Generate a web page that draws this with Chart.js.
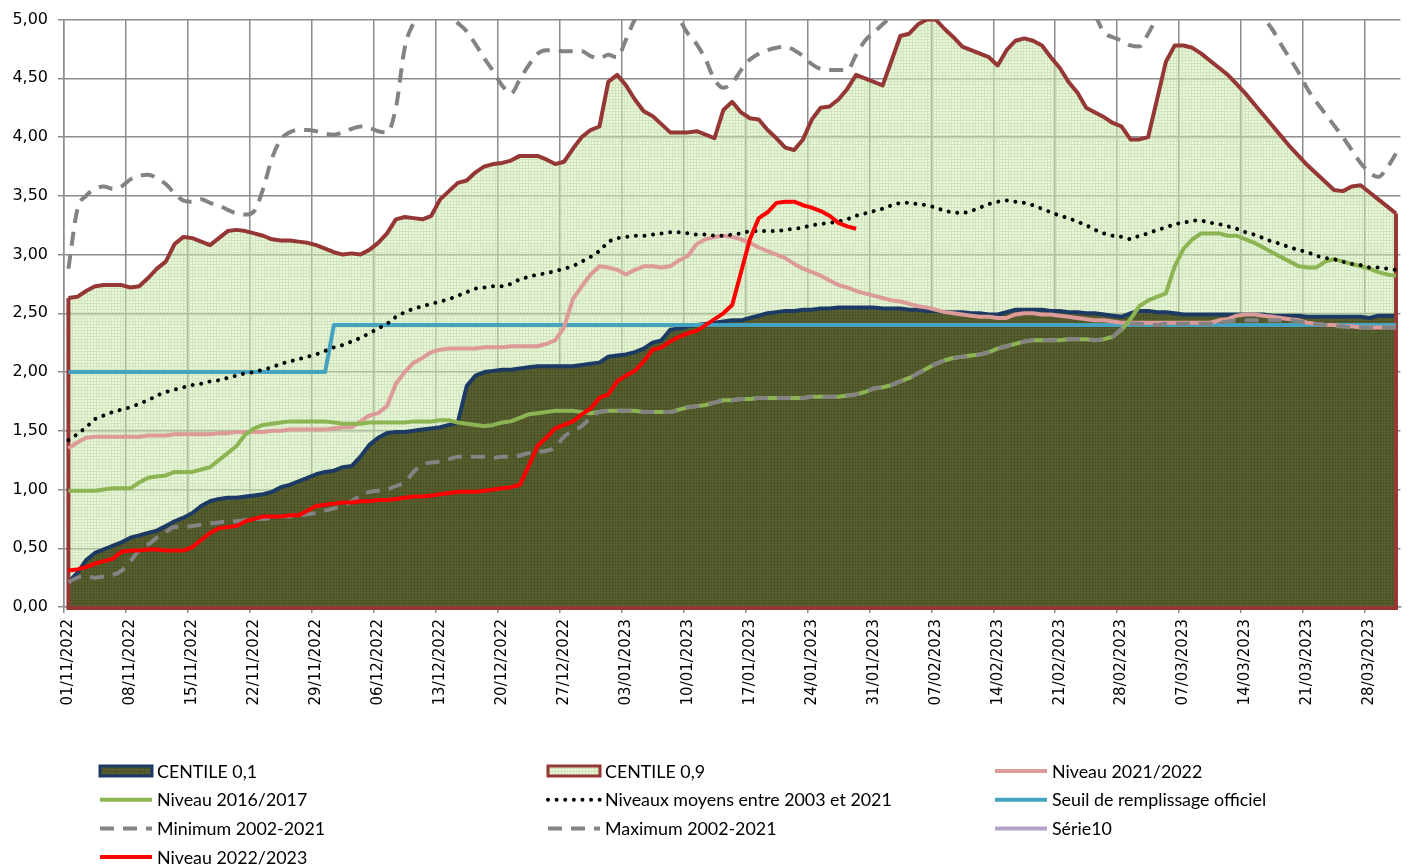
<!DOCTYPE html>
<html><head><meta charset="utf-8">
<script src="https://cdn.jsdelivr.net/npm/chart.js@4.4.0/dist/chart.umd.min.js"></script>
<style>html,body{margin:0;padding:0;background:#fff;}canvas{display:block;}</style>
</head><body>
<canvas id="c" width="1420" height="865"></canvas>
<script>
// ---------- DATA ----------
const categories = [];
for (let d = new Date(Date.UTC(2022, 10, 1)); d <= new Date(Date.UTC(2023, 2, 31)); d.setUTCDate(d.getUTCDate() + 1)) {
  const dd = String(d.getUTCDate()).padStart(2, '0'), mm = String(d.getUTCMonth() + 1).padStart(2, '0');
  categories.push(dd + '/' + mm + '/' + d.getUTCFullYear());
}
const tickEvery = 7;
const yTicks = [0, 0.5, 1, 1.5, 2, 2.5, 3, 3.5, 4, 4.5, 5];

const centile01 = [0.21,0.29,0.40,0.46,0.49,0.52,0.55,0.59,0.61,0.63,
0.65,0.69,0.73,0.76,0.80,0.86,0.90,0.92,0.93,0.93,
0.94,0.95,0.96,0.98,1.02,1.04,1.07,1.10,1.13,1.15,
1.16,1.19,1.20,1.28,1.38,1.44,1.48,1.49,1.49,1.50,
1.51,1.52,1.53,1.55,1.57,1.88,1.97,2.00,2.01,2.02,
2.02,2.03,2.04,2.05,2.05,2.05,2.05,2.05,2.06,2.07,
2.08,2.13,2.14,2.15,2.17,2.20,2.25,2.27,2.36,2.37,
2.39,2.40,2.41,2.42,2.43,2.44,2.44,2.46,2.48,2.50,
2.51,2.52,2.52,2.53,2.53,2.54,2.54,2.55,2.55,2.55,
2.55,2.55,2.54,2.54,2.54,2.53,2.53,2.52,2.52,2.51,
2.51,2.51,2.50,2.50,2.49,2.49,2.51,2.53,2.53,2.53,
2.53,2.52,2.52,2.51,2.51,2.50,2.50,2.49,2.48,2.47,
2.50,2.52,2.52,2.51,2.51,2.50,2.49,2.49,2.49,2.49,
2.49,2.49,2.49,2.49,2.49,2.49,2.48,2.48,2.48,2.48,
2.47,2.47,2.47,2.47,2.47,2.47,2.47,2.46,2.48,2.48,
2.48];

const centile09 = [2.63,2.64,2.69,2.73,2.74,2.74,2.74,2.72,2.73,2.80,
2.88,2.94,3.09,3.15,3.14,3.11,3.08,3.14,3.20,3.21,
3.20,3.18,3.16,3.13,3.12,3.12,3.11,3.10,3.08,3.05,
3.02,3.00,3.01,3.00,3.04,3.10,3.18,3.30,3.32,3.31,
3.30,3.33,3.47,3.54,3.61,3.63,3.70,3.75,3.77,3.78,
3.80,3.84,3.84,3.84,3.81,3.77,3.79,3.90,4.00,4.06,
4.09,4.47,4.53,4.44,4.32,4.22,4.18,4.11,4.04,4.04,
4.04,4.05,4.02,3.99,4.23,4.30,4.21,4.16,4.15,4.06,
3.99,3.91,3.89,3.98,4.15,4.25,4.26,4.32,4.41,4.53,
4.50,4.47,4.44,4.65,4.86,4.88,4.96,5.00,5.00,4.92,
4.85,4.77,4.74,4.71,4.68,4.61,4.74,4.82,4.84,4.82,
4.78,4.68,4.59,4.47,4.38,4.25,4.21,4.17,4.12,4.09,
3.98,3.98,4.00,4.32,4.64,4.78,4.78,4.76,4.71,4.65,
4.59,4.53,4.45,4.37,4.28,4.19,4.10,4.01,3.92,3.84,
3.76,3.69,3.62,3.55,3.54,3.58,3.59,3.53,3.47,3.41,
3.35];

const niveau2122 = [1.35,1.40,1.44,1.45,1.45,1.45,1.45,1.45,1.45,1.46,
1.46,1.46,1.47,1.47,1.47,1.47,1.47,1.48,1.48,1.49,
1.49,1.49,1.49,1.50,1.50,1.51,1.51,1.51,1.51,1.51,
1.52,1.53,1.53,1.58,1.63,1.65,1.71,1.90,2.00,2.08,
2.12,2.17,2.19,2.20,2.20,2.20,2.20,2.21,2.21,2.21,
2.22,2.22,2.22,2.22,2.24,2.27,2.38,2.62,2.73,2.83,
2.90,2.89,2.87,2.83,2.87,2.90,2.90,2.89,2.90,2.95,
2.99,3.09,3.13,3.15,3.16,3.15,3.13,3.10,3.06,3.03,
3.00,2.97,2.92,2.88,2.85,2.82,2.78,2.74,2.72,2.69,
2.67,2.65,2.63,2.61,2.60,2.58,2.56,2.55,2.53,2.51,
2.50,2.49,2.48,2.47,2.47,2.46,2.46,2.49,2.50,2.50,
2.49,2.49,2.48,2.47,2.46,2.45,2.44,2.44,2.43,2.42,
2.42,2.42,2.42,2.42,2.42,2.42,2.42,2.42,2.42,2.42,
2.44,2.45,2.48,2.49,2.49,2.48,2.47,2.46,2.45,2.44,
2.42,2.41,2.40,2.40,2.39,2.39,2.38,2.38,2.38,2.38,
2.38];

const niveau1617 = [0.99,0.99,0.99,0.99,1.00,1.01,1.01,1.01,1.06,1.10,
1.11,1.12,1.15,1.15,1.15,1.17,1.19,1.25,1.31,1.37,
1.47,1.52,1.55,1.56,1.57,1.58,1.58,1.58,1.58,1.58,
1.57,1.56,1.56,1.56,1.57,1.57,1.57,1.57,1.57,1.58,
1.58,1.58,1.59,1.59,1.57,1.56,1.55,1.54,1.55,1.57,
1.58,1.61,1.64,1.65,1.66,1.67,1.67,1.67,1.66,1.65,
1.66,1.67,1.67,1.67,1.67,1.66,1.66,1.66,1.66,1.68,
1.70,1.71,1.72,1.74,1.76,1.76,1.77,1.77,1.78,1.78,
1.78,1.78,1.78,1.78,1.79,1.79,1.79,1.79,1.80,1.81,
1.83,1.86,1.87,1.89,1.92,1.95,1.99,2.03,2.07,2.10,
2.12,2.13,2.14,2.15,2.17,2.20,2.22,2.24,2.26,2.27,
2.27,2.27,2.27,2.28,2.28,2.28,2.27,2.28,2.30,2.36,
2.45,2.56,2.61,2.64,2.67,2.90,3.05,3.13,3.18,3.18,
3.18,3.16,3.16,3.13,3.10,3.06,3.02,2.98,2.94,2.90,
2.89,2.89,2.94,2.96,2.94,2.92,2.90,2.88,2.85,2.83,
2.82];

const moyens0321 = [1.42,1.47,1.53,1.60,1.63,1.66,1.68,1.70,1.73,1.76,
1.80,1.83,1.85,1.87,1.89,1.90,1.92,1.93,1.95,1.97,
1.99,2.00,2.02,2.04,2.07,2.09,2.11,2.13,2.15,2.18,
2.21,2.23,2.26,2.29,2.33,2.37,2.41,2.47,2.51,2.54,
2.56,2.58,2.60,2.62,2.65,2.68,2.71,2.72,2.73,2.73,
2.75,2.79,2.81,2.83,2.84,2.86,2.88,2.90,2.94,2.98,
3.03,3.11,3.14,3.15,3.16,3.16,3.17,3.18,3.19,3.19,
3.18,3.17,3.17,3.16,3.16,3.17,3.18,3.20,3.20,3.20,
3.20,3.21,3.22,3.23,3.25,3.26,3.27,3.28,3.30,3.33,
3.35,3.37,3.39,3.42,3.44,3.44,3.43,3.42,3.40,3.37,
3.36,3.35,3.37,3.40,3.43,3.45,3.46,3.45,3.44,3.42,
3.39,3.36,3.33,3.31,3.28,3.25,3.21,3.18,3.16,3.15,
3.13,3.16,3.18,3.21,3.23,3.26,3.27,3.29,3.29,3.27,
3.26,3.24,3.22,3.19,3.17,3.14,3.11,3.09,3.06,3.04,
3.02,2.99,2.97,2.96,2.94,2.92,2.91,2.89,2.89,2.88,
2.87];

const seuilOfficiel = [2.00,2.00,2.00,2.00,2.00,2.00,2.00,2.00,2.00,2.00,
2.00,2.00,2.00,2.00,2.00,2.00,2.00,2.00,2.00,2.00,
2.00,2.00,2.00,2.00,2.00,2.00,2.00,2.00,2.00,2.00,
2.40,2.40,2.40,2.40,2.40,2.40,2.40,2.40,2.40,2.40,
2.40,2.40,2.40,2.40,2.40,2.40,2.40,2.40,2.40,2.40,
2.40,2.40,2.40,2.40,2.40,2.40,2.40,2.40,2.40,2.40,
2.40,2.40,2.40,2.40,2.40,2.40,2.40,2.40,2.40,2.40,
2.40,2.40,2.40,2.40,2.40,2.40,2.40,2.40,2.40,2.40,
2.40,2.40,2.40,2.40,2.40,2.40,2.40,2.40,2.40,2.40,
2.40,2.40,2.40,2.40,2.40,2.40,2.40,2.40,2.40,2.40,
2.40,2.40,2.40,2.40,2.40,2.40,2.40,2.40,2.40,2.40,
2.40,2.40,2.40,2.40,2.40,2.40,2.40,2.40,2.40,2.40,
2.40,2.40,2.40,2.40,2.40,2.40,2.40,2.40,2.40,2.40,
2.40,2.40,2.40,2.40,2.40,2.40,2.40,2.40,2.40,2.40,
2.40,2.40,2.40,2.40,2.40,2.40,2.40,2.40,2.40,2.40,
2.40];

const minimum0221 = [0.21,0.25,0.26,0.25,0.26,0.27,0.31,0.39,0.48,0.53,
0.59,0.64,0.68,0.68,0.69,0.70,0.71,0.72,0.73,0.73,
0.74,0.75,0.75,0.76,0.77,0.77,0.78,0.79,0.80,0.82,
0.84,0.86,0.90,0.95,0.98,0.99,1.00,1.03,1.06,1.15,
1.21,1.23,1.24,1.26,1.28,1.28,1.28,1.28,1.27,1.28,
1.28,1.29,1.31,1.32,1.33,1.36,1.45,1.50,1.54,1.61,
1.66,1.67,1.67,1.67,1.67,1.66,1.66,1.66,1.66,1.68,
1.70,1.71,1.72,1.74,1.76,1.76,1.77,1.77,1.78,1.78,
1.78,1.78,1.78,1.78,1.79,1.79,1.79,1.79,1.80,1.81,
1.83,1.86,1.87,1.89,1.92,1.95,1.99,2.03,2.07,2.10,
2.12,2.13,2.14,2.15,2.17,2.20,2.22,2.24,2.26,2.27,
2.27,2.27,2.27,2.28,2.28,2.28,2.27,2.28,2.30,2.37,
2.41,2.41,2.40,2.40,2.41,2.41,2.41,2.41,2.41,2.41,
2.42,2.43,2.44,2.44,2.44,2.44,2.44,2.44,2.44,2.43,
2.42,2.41,2.40,2.39,2.39,2.38,2.38,2.38,2.38,2.38,
2.38];

const maximum0221 = [2.88,3.38,3.50,3.56,3.58,3.56,3.58,3.64,3.67,3.68,
3.65,3.60,3.52,3.46,3.45,3.47,3.44,3.42,3.38,3.35,
3.34,3.37,3.56,3.82,3.98,4.04,4.06,4.06,4.05,4.03,
4.02,4.04,4.07,4.09,4.08,4.05,4.04,4.25,4.76,4.97,
5.06,5.10,5.08,5.03,4.97,4.90,4.79,4.67,4.56,4.44,
4.37,4.49,4.61,4.71,4.74,4.74,4.73,4.73,4.73,4.69,
4.67,4.70,4.68,4.83,5.00,5.08,5.12,5.10,5.05,5.00,
4.88,4.79,4.66,4.49,4.42,4.46,4.57,4.66,4.71,4.74,
4.76,4.77,4.74,4.69,4.62,4.58,4.57,4.57,4.57,4.70,
4.82,4.89,4.96,5.03,5.12,5.20,5.28,5.34,5.38,5.40,
5.38,5.35,5.30,5.26,5.22,5.20,5.22,5.25,5.27,5.26,
5.22,5.18,5.14,5.10,5.06,5.03,5.02,4.89,4.85,4.82,
4.78,4.77,4.88,5.02,5.12,5.20,5.26,5.30,5.32,5.30,
5.27,5.22,5.16,5.10,5.05,5.01,4.92,4.79,4.67,4.55,
4.41,4.30,4.20,4.10,4.00,3.89,3.78,3.70,3.66,3.74,
3.86];

const serie10 = [];

const niveau2223 = [0.31,0.32,0.34,0.37,0.39,0.41,0.47,0.48,0.48,0.49,
0.49,0.48,0.48,0.48,0.51,0.57,0.63,0.67,0.68,0.69,
0.73,0.75,0.77,0.77,0.77,0.78,0.78,0.82,0.86,0.87,
0.88,0.89,0.89,0.90,0.90,0.91,0.91,0.92,0.93,0.94,
0.94,0.95,0.96,0.97,0.98,0.98,0.98,0.99,1.00,1.01,
1.02,1.04,1.20,1.37,1.44,1.52,1.55,1.58,1.64,1.69,
1.78,1.81,1.92,1.97,2.01,2.09,2.19,2.21,2.26,2.30,
2.33,2.35,2.40,2.45,2.50,2.57,2.85,3.13,3.31,3.36,
3.44,3.45,3.45,3.42,3.40,3.37,3.33,3.27,3.24,3.22];

// ---------- STYLE ----------
const canvas = document.getElementById('c');
const ctx0 = canvas.getContext('2d');
function makePattern(base, line, size) {
  const p = document.createElement('canvas'); p.width = size; p.height = size;
  const g = p.getContext('2d');
  g.fillStyle = base; g.fillRect(0, 0, size, size);
  g.fillStyle = line; g.fillRect(0, 0, size, 1); g.fillRect(0, 1, 1, size - 1);
  return ctx0.createPattern(p, 'repeat');
}
const lightFill = makePattern('rgba(208,232,180,0.45)', 'rgba(190,220,160,0.55)', 3);
const darkFill = makePattern('#59612f', '#4c5329', 3);
const gridColor = '#8c8c8c';

const m = document.createElement('canvas').getContext('2d');
m.font = '18px Lato';
const legendSize = 18 * 287 / m.measureText('Niveaux moyens entre 2003 et 2021').width;

const datasets = [
  { label: 'CENTILE 0,1', data: centile01, borderColor: '#1c3a63', borderWidth: 4, backgroundColor: darkFill, fill: 'origin', order: 8 },
  { label: 'CENTILE 0,9', data: centile09, borderColor: '#953735', borderWidth: 4, backgroundColor: lightFill, fill: 'origin', order: 9 },
  { label: 'Niveau 2021/2022', data: niveau2122, borderColor: '#dc9a98', borderWidth: 4, fill: false, order: 5 },
  { label: 'Niveau 2016/2017', data: niveau1617, borderColor: '#8db452', borderWidth: 4, fill: false, order: 4 },
  { label: 'Niveaux moyens entre 2003 et 2021', data: moyens0321, borderColor: '#000000', borderWidth: 4, borderDash: [0.01, 8.6], borderCapStyle: 'round', fill: false, order: 2 },
  { label: 'Seuil de remplissage officiel', data: seuilOfficiel, borderColor: '#45a3bf', borderWidth: 4, fill: false, order: 6 },
  { label: 'Minimum 2002-2021', data: minimum0221, borderColor: '#838383', borderWidth: 4, borderDash: [14, 9], fill: false, order: 3, cubicInterpolationMode: 'monotone' },
  { label: 'Maximum 2002-2021', data: maximum0221, borderColor: '#838383', borderWidth: 4, borderDash: [14, 9], fill: false, order: 3, cubicInterpolationMode: 'monotone' },
  { label: 'Série10', data: serie10, borderColor: '#b3a2c7', borderWidth: 4, fill: false, order: 7 },
  { label: 'Niveau 2022/2023', data: niveau2223, borderColor: '#ff0000', borderWidth: 4, fill: false, order: 1 }
];

// outline of the CENTILE 0,9 area (vertical edges + baseline)
const areaEdge = {
  id: 'areaEdge',
  afterDatasetDraw(chart, args) {
    if (chart.data.datasets[args.index].label !== 'CENTILE 0,1') return;
    const d = chart.data.datasets.find(s => s.label === 'CENTILE 0,9');
    const xs = chart.scales.x, ys = chart.scales.y, c = chart.ctx;
    const n = d.data.length;
    const x0 = xs.getPixelForValue(0), x1 = xs.getPixelForValue(n - 1), yb = ys.getPixelForValue(0);
    c.save();
    c.strokeStyle = d.borderColor; c.lineWidth = d.borderWidth; c.lineJoin = 'miter';
    c.beginPath();
    c.moveTo(x0, ys.getPixelForValue(d.data[0]));
    c.lineTo(x0, yb + 1); c.lineTo(x1, yb + 1);
    c.lineTo(x1, ys.getPixelForValue(d.data[n - 1]));
    c.stroke();
    c.restore();
  }
};

// three-column legend under the chart
const gridLegend = {
  id: 'gridLegend',
  afterDraw(chart) {
    const c = chart.ctx;
    const colX = [100, 548, 995], y0 = 771, rowH = 28.7, symW = 52, gap = 5;
    chart.data.datasets.forEach((d, i) => {
      const x = colX[i % 3], y = y0 + Math.floor(i / 3) * rowH;
      c.save();
      if (d.fill) {
        c.fillStyle = '#ffffff'; c.fillRect(x, y - 5, symW, 10);
        c.fillStyle = d.backgroundColor; c.fillRect(x, y - 5, symW, 10);
        c.strokeStyle = d.borderColor; c.lineWidth = 3; c.strokeRect(x, y - 5, symW, 10);
      } else {
        c.strokeStyle = d.borderColor; c.lineWidth = d.borderWidth;
        c.setLineDash(d.borderDash || []); c.lineCap = d.borderCapStyle || 'butt';
        c.beginPath(); c.moveTo(x, y); c.lineTo(x + symW, y); c.stroke();
      }
      c.restore();
      c.save();
      c.fillStyle = '#000'; c.font = legendSize.toFixed(2) + 'px Lato';
      c.textBaseline = 'middle'; c.textAlign = 'left';
      c.fillText(d.label, x + symW + gap, y + 1);
      c.restore();
    });
  }
};

new Chart(canvas, {
  type: 'line',
  data: { labels: categories, datasets },
  plugins: [areaEdge, gridLegend],
  options: {
    responsive: false, animation: false, devicePixelRatio: 1,
    layout: { padding: { top: 16, right: 10, left: 0, bottom: 0 } },
    plugins: { legend: { display: false }, tooltip: { enabled: false } },
    elements: { point: { radius: 0 }, line: { tension: 0, borderJoinStyle: 'round' } },
    scales: {
      x: {
        type: 'category', offset: true,
        grid: {
          offset: true, lineWidth: 1.5, tickLength: 6,
          color: c => (c.index % tickEvery === 0 ? gridColor : 'rgba(0,0,0,0)'),
          tickColor: c => (c.index % tickEvery === 0 ? gridColor : 'rgba(0,0,0,0)')
        },
        border: { color: gridColor, width: 1.5 },
        ticks: {
          autoSkip: false, maxRotation: 90, minRotation: 90, padding: 6, color: '#000',
          font: { family: 'DejaVu Sans', size: 15 },
          callback: (v, i) => (i % tickEvery === 0 ? categories[i] : '')
        },
        afterFit: s => { s.height = 258; }
      },
      y: {
        min: yTicks[0], max: yTicks[yTicks.length - 1],
        afterBuildTicks: s => { s.ticks = yTicks.map(v => ({ value: v })); },
        grid: { color: gridColor, lineWidth: 1.5, tickLength: 6 },
        border: { color: gridColor, width: 1.5 },
        ticks: {
          padding: 10, color: '#000', font: { family: 'DejaVu Sans', size: 16 },
          callback: v => Number(v).toFixed(2).replace('.', ',')
        },
        afterFit: s => { s.width = 64; }
      }
    }
  }
});
</script>
</body></html>
